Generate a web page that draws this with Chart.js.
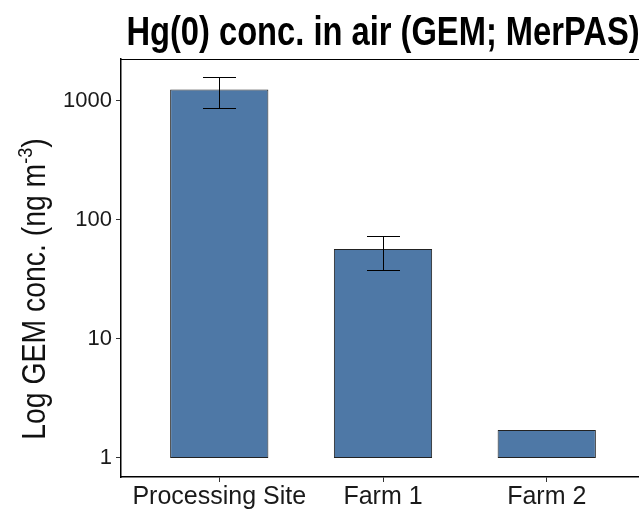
<!DOCTYPE html>
<html>
<head>
<meta charset="utf-8">
<script src="https://cdn.jsdelivr.net/npm/chart.js@4/dist/chart.umd.min.js"></script>
<style>
  html, body { margin: 0; padding: 0; background: #fff; }
  #wrap { width: 639px; height: 509px; overflow: hidden; }
  #wrap div { width: 645px; height: 509px; }
</style>
</head>
<body>
<div id="wrap"><div><canvas id="grafico"></canvas></div></div>
<script>
const categorias = ['Processing Site', 'Farm 1', 'Farm 2']
const medias = [1250, 57, 1.72]
const erroMin = [875, 38, null]
const erroMax = [1590, 73, null]
const ticksY = [1, 10, 100, 1000]

const titulo = 'Hg(0) conc. in air (GEM; MerPAS)'
const fonte = "'Liberation Sans', Arial, sans-serif"

// texto "narrow": Liberation Sans comprimido na horizontal
function textoEstreito(ctx, txt, x, y, escala) {
	ctx.save()
	ctx.translate(x, y)
	ctx.scale(escala, 1)
	ctx.fillText(txt, 0, 0)
	ctx.restore()
}

// barras de erro + borda de cima + titulos
const extras = {
	id: 'extras',
	afterDatasetsDraw(chart) {
		const { ctx, chartArea, scales } = chart
		ctx.save()
		ctx.strokeStyle = '#000'
		ctx.lineWidth = 1
		medias.forEach((m, i) => {
			if (erroMin[i] == null) return
			const x = Math.round(scales.x.getPixelForValue(i)) + 0.5
			const y1 = Math.round(scales.y.getPixelForValue(erroMax[i])) + 0.5
			const y2 = Math.round(scales.y.getPixelForValue(erroMin[i])) + 0.5
			ctx.beginPath()
			ctx.moveTo(x, y1); ctx.lineTo(x, y2)
			ctx.moveTo(x - 16.5, y1); ctx.lineTo(x + 16.5, y1)
			ctx.moveTo(x - 16.5, y2); ctx.lineTo(x + 16.5, y2)
			ctx.stroke()
		})
		// linha de cima
		ctx.beginPath()
		ctx.moveTo(chartArea.left, chartArea.top + 0.5)
		ctx.lineTo(chartArea.right, chartArea.top + 0.5)
		ctx.stroke()

		// titulo
		ctx.fillStyle = '#000'
		ctx.textAlign = 'left'
		ctx.textBaseline = 'alphabetic'
		ctx.font = 'bold 40px ' + fonte
		const esc = 0.817
		const wt = ctx.measureText(titulo).width * esc
		textoEstreito(ctx, titulo, (chartArea.left + chartArea.right) / 2 - wt / 2, 45, esc)

		// titulo do eixo y com sobrescrito
		ctx.translate(45, 289)
		ctx.rotate(-Math.PI / 2)
		const e2 = 0.86
		const p1 = 'Log GEM conc. (ng m', sup = '-3', p2 = ')'
		ctx.font = '33px ' + fonte
		const w1 = ctx.measureText(p1).width * e2
		const w2 = ctx.measureText(p2).width * e2
		ctx.font = '21px ' + fonte
		const ws = ctx.measureText(sup).width * e2
		const x0 = -(w1 + ws + w2) / 2
		ctx.fillStyle = '#111'
		ctx.font = '33px ' + fonte
		textoEstreito(ctx, p1, x0, 0, e2)
		ctx.font = '21px ' + fonte
		textoEstreito(ctx, sup, x0 + w1, -13, e2)
		ctx.font = '33px ' + fonte
		textoEstreito(ctx, p2, x0 + w1 + ws, 0, e2)
		ctx.restore()
	}
}

const chart = new Chart(document.getElementById('grafico'), {
	type: 'bar',
	data: {
		datasets: [{
			data: medias.map((v, i) => ({ x: i, y: [1, v] })),
			backgroundColor: '#4e78a6',
			borderColor: '#222',
			borderWidth: 1,
			borderSkipped: false,
			barPercentage: 0.6,
			categoryPercentage: 1
		}]
	},
	options: {
		responsive: true,
		maintainAspectRatio: false,
		animation: false,
		layout: { padding: { top: 59, left: 0, right: 0, bottom: 0 } },
		plugins: { legend: { display: false }, tooltip: { enabled: false } },
		scales: {
			x: {
				type: 'linear',
				offset: false,
				min: -0.6,
				max: 2.6,
				afterBuildTicks: (s) => { s.ticks = categorias.map((c, i) => ({ value: i })) },
				afterFit: (s) => { s.height = 32 },
				ticks: {
					callback: (v) => categorias[v],
					font: { family: fonte, size: 25 },
					color: '#1a1a1a',
					padding: 0,
					maxRotation: 0,
					autoSkip: false
				},
				grid: { drawOnChartArea: false, offset: false, tickLength: 5, color: '#333' },
				border: { color: '#000', width: 1.5 }
			},
			y: {
				type: 'logarithmic',
				min: 0.692,
				max: 2254,
				afterBuildTicks: (s) => { s.ticks = ticksY.map((v) => ({ value: v })) },
				afterFit: (s) => { s.width = 121 },
				ticks: {
					callback: (v) => String(v),
					font: { family: fonte, size: 22 },
					color: '#1a1a1a',
					padding: 4
				},
				grid: { drawOnChartArea: false, tickLength: 5, color: '#333' },
				border: { color: '#000', width: 1.5 }
			}
		}
	},
	plugins: [extras]
})
</script>
</body>
</html>
